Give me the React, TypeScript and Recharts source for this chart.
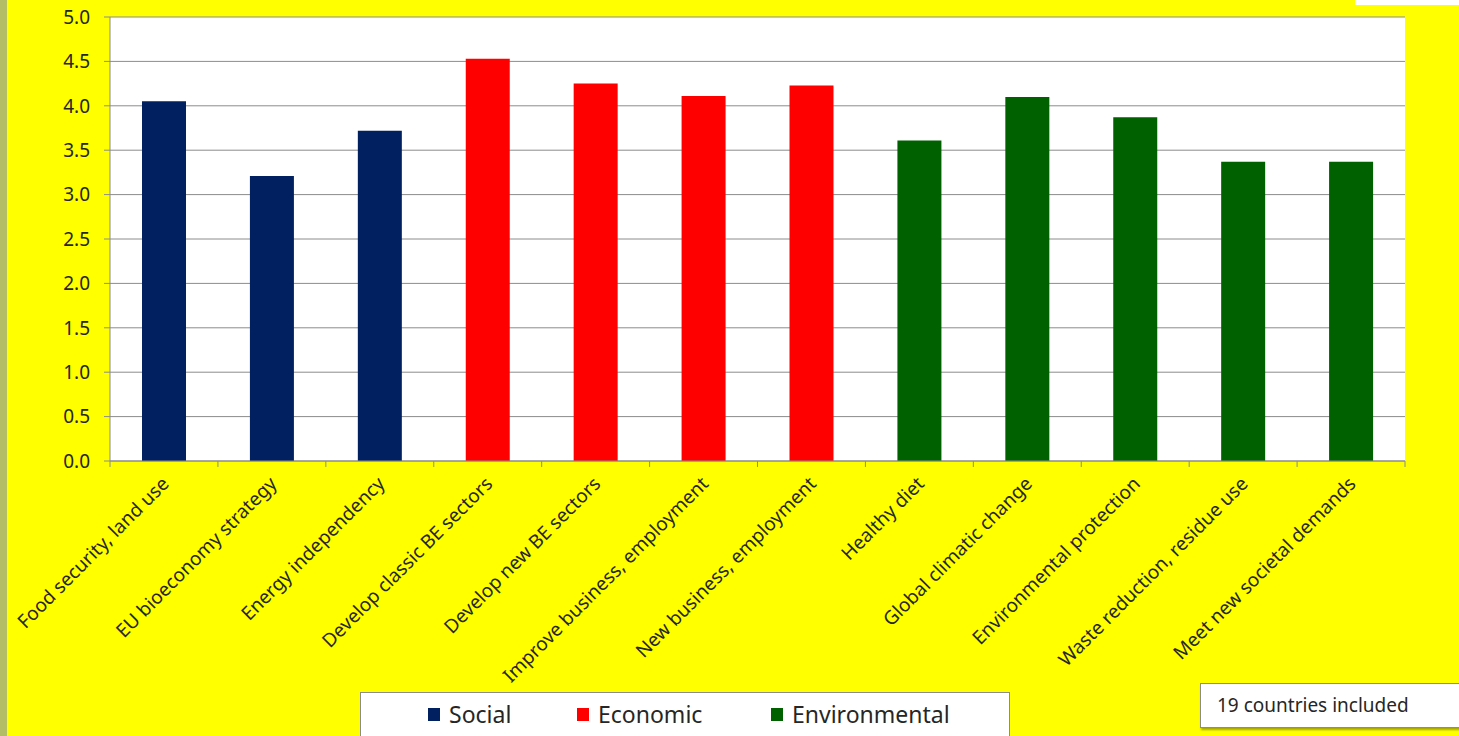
import { Bar, BarChart, CartesianGrid, Cell, XAxis, YAxis } from "recharts";

const categories = [
  "Food security, land use",
  "EU bioeconomy strategy",
  "Energy independency",
  "Develop classic BE sectors",
  "Develop new BE sectors",
  "Improve business, employment",
  "New business, employment",
  "Healthy diet",
  "Global climatic change",
  "Environmental protection",
  "Waste reduction, residue use",
  "Meet new societal demands",
];
const scores = [4.05, 3.21, 3.72, 4.53, 4.25, 4.11, 4.23, 3.61, 4.1, 3.87, 3.37, 3.37];
const groups = [
  "Social", "Social", "Social",
  "Economic", "Economic", "Economic", "Economic",
  "Environmental", "Environmental", "Environmental", "Environmental", "Environmental",
];
const yTicks = [0, 0.5, 1, 1.5, 2, 2.5, 3, 3.5, 4, 4.5, 5];
const groupNames = ["Social", "Economic", "Environmental"];
const note = "19 countries included";

const COLORS: Record<string, string> = {
  Social: "#002060",
  Economic: "#FF0000",
  Environmental: "#006100",
};
const FONT = "'Noto Sans', sans-serif";
const TEXT = "#262626";
const W = 1459;
const H = 736;
const PLOT_LEFT = 110;
const PLOT_RIGHT = 1405;
const BAND = (PLOT_RIGHT - PLOT_LEFT) / categories.length;

const data = categories.map((name, i) => ({ name, score: scores[i], group: groups[i] }));

function XTick(props: any) {
  const { x, y, payload, index } = props;
  const last = index === categories.length - 1;
  const ax = x + 6;
  const ay = y + 16;
  return (
    <g>
      <line x1={x - BAND / 2} x2={x - BAND / 2} y1={y - 8} y2={y - 2} stroke="#8c8c8c" />
      {last && <line x1={x + BAND / 2} x2={x + BAND / 2} y1={y - 8} y2={y - 2} stroke="#8c8c8c" />}
      <text
        x={ax}
        y={ay}
        textAnchor="end"
        transform={`rotate(-45, ${ax}, ${ay})`}
        fontSize={19}
        fontFamily={FONT}
        fill={TEXT}
      >
        {payload.value}
      </text>
    </g>
  );
}

export default function App() {
  return (
    <div
      style={{
        position: "absolute",
        left: 0,
        top: 0,
        width: W,
        height: H,
        background: "#FFFF00",
        overflow: "hidden",
        fontFamily: FONT,
      }}
    >
      <div style={{ position: "absolute", left: 0, top: 0, width: 7, height: H, background: "#b3bd66" }} />
      <div style={{ position: "absolute", left: 1355, top: 0, width: 104, height: 5, background: "#fff" }} />
      <BarChart
        width={W}
        height={H}
        data={data}
        margin={{ top: 17, right: W - PLOT_RIGHT, left: 0, bottom: 0 }}
        barCategoryGap={32}
      >
        <CartesianGrid vertical={false} stroke="#8c8c8c" fill="#fff" />
        <XAxis
          dataKey="name"
          height={275}
          interval={0}
          tickLine={false}
          axisLine={{ stroke: "#8c8c8c" }}
          tick={<XTick />}
        />
        <YAxis
          width={PLOT_LEFT}
          domain={[0, 5]}
          ticks={yTicks}
          tickFormatter={(v: number) => v.toFixed(1)}
          tickSize={6}
          tickMargin={14}
          tickLine={{ stroke: "#8c8c8c" }}
          axisLine={{ stroke: "#8c8c8c" }}
          tick={{ fontSize: 19, fill: TEXT, fontFamily: FONT }}
        />
        <Bar dataKey="score" barSize={44} isAnimationActive={false}>
          {data.map((d) => (
            <Cell key={d.name} fill={COLORS[d.group]} />
          ))}
        </Bar>
      </BarChart>
      <div
        style={{
          position: "absolute",
          left: 360,
          top: 692,
          width: 650,
          height: 60,
          background: "#fff",
          border: "1px solid #8c8c8c",
          boxSizing: "border-box",
        }}
      >
        {groupNames.map((g, i) => (
          <div
            key={g}
            style={{
              position: "absolute",
              left: [67, 216, 410][i],
              top: 5,
              display: "flex",
              alignItems: "center",
              fontSize: 23,
              color: TEXT,
              whiteSpace: "nowrap",
            }}
          >
            <span style={{ display: "inline-block", width: 12, height: 13, background: COLORS[g], marginRight: 9 }} />
            {g}
          </div>
        ))}
      </div>
      <div
        style={{
          position: "absolute",
          left: 1200,
          top: 683,
          width: 280,
          height: 45,
          background: "#fff",
          border: "1px solid #8c8c8c",
          boxShadow: "1px 2px 2px rgba(0,0,0,0.35)",
          boxSizing: "border-box",
          fontSize: 19,
          color: TEXT,
          paddingLeft: 16,
          lineHeight: "43px",
          whiteSpace: "nowrap",
        }}
      >
        {note}
      </div>
    </div>
  );
}
